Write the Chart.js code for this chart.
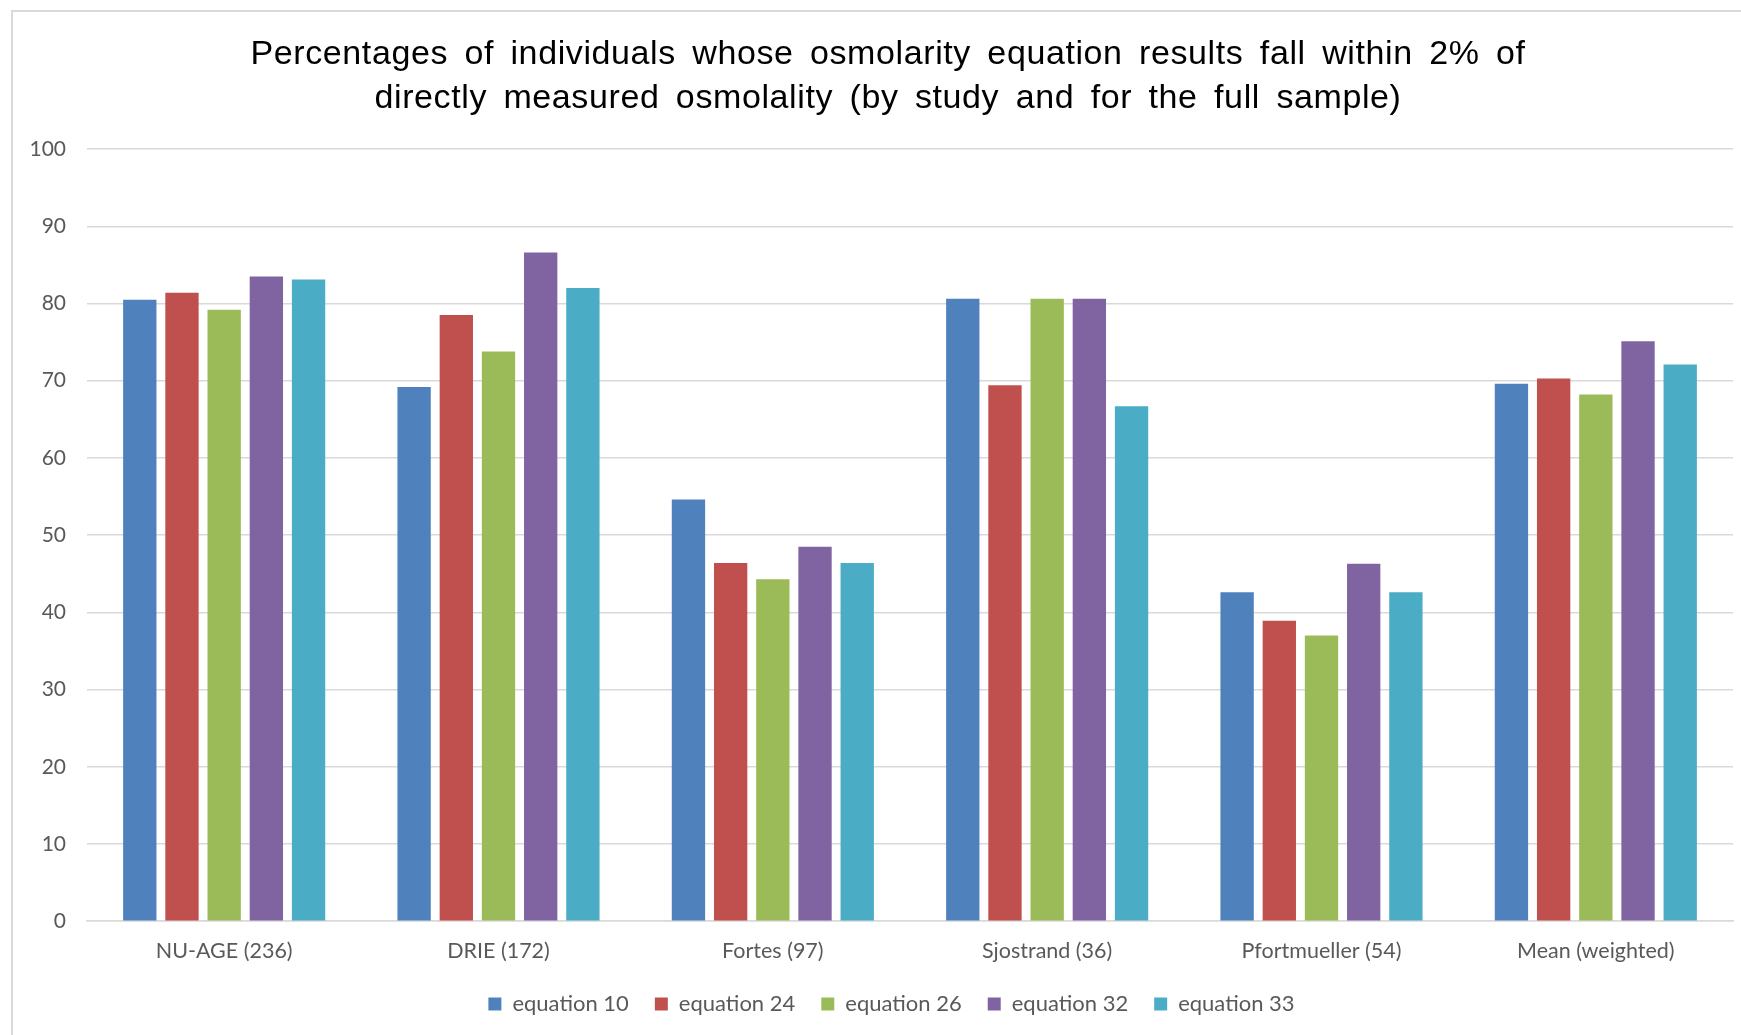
<!DOCTYPE html>
<html>
<head>
<meta charset="utf-8">
<script src="https://cdn.jsdelivr.net/npm/chart.js@4.4.1/dist/chart.umd.min.js"></script>
<style>
    html, body { margin: 0; padding: 0; background: #fff; }
    #frame {
        position: absolute; left: 11px; top: 10px; right: 0; bottom: 0;
        border-left: 2px solid #d9d9d9; border-top: 2px solid #d9d9d9;
    }
    #wrap { position: absolute; left: 0; top: 0; width: 1741px; height: 1035px; }
</style>
</head>
<body>
<div id="frame"></div>
<div id="wrap"><canvas id="my-chart"></canvas></div>
<script>
const studies = ['NU-AGE (236)', 'DRIE (172)', 'Fortes (97)', 'Sjostrand (36)', 'Pfortmueller (54)', 'Mean (weighted)'];

const eq10 = [80.5, 69.2, 54.6, 80.6, 42.6, 69.6];
const eq24 = [81.4, 78.5, 46.4, 69.4, 38.9, 70.3];
const eq26 = [79.2, 73.8, 44.3, 80.6, 37.0, 68.2];
const eq32 = [83.5, 86.6, 48.5, 80.6, 46.3, 75.1];
const eq33 = [83.1, 82.0, 46.4, 66.7, 42.6, 72.1];

const seriesNames = ['equation 10', 'equation 24', 'equation 26', 'equation 32', 'equation 33'];
const colors = ['#4f81bd', '#c0504d', '#9bbb59', '#8064a2', '#4bacc6'];

const titleLines = [
    'Percentages of individuals whose osmolarity equation results fall within 2% of',
    'directly measured osmolality (by study and for the full sample)'
];

const yTicks = [0, 10, 20, 30, 40, 50, 60, 70, 80, 90, 100];

const ctx = document.getElementById('my-chart');

const data = {
    labels: studies,
    datasets: [eq10, eq24, eq26, eq32, eq33].map(function (vals, i) {
        return {
            label: seriesNames[i],
            data: vals,
            backgroundColor: colors[i],
            borderWidth: 0,
            categoryPercentage: 0.769,
            barPercentage: 0.79
        };
    })
};

const legendCut = 14; // legend takes less room above, so the plot reaches further down

// title and legend are centred a bit right of the canvas middle, title text is spaced wider
const tweaks = {
    id: 'tweaks',
    beforeLayout: function (chart) {
        const lg = chart.legend;
        if (!lg || lg._short) return;
        const fit = lg.fit;
        lg.fit = function () {
            fit.call(this);
            this.height -= legendCut;
        };
        lg._short = true;
    },
    afterLayout: function (chart) {
        chart.titleBlock.left += 43;
        chart.legend.left += 50;
        chart.legend.top -= legendCut;
    },
    beforeDraw: function (chart) {
        const tb = chart.titleBlock;
        if (tb._wide) return;
        const orig = tb.draw;
        tb.draw = function (area) {
            const c = this.ctx;
            c.save();
            c.letterSpacing = '0.6px';
            c.wordSpacing = '6.4px';
            orig.call(this, area);
            c.restore();
        };
        tb._wide = true;
    }
};

const config = {
    type: 'bar',
    data: data,
    plugins: [tweaks],
    options: {
        responsive: false,
        animation: false,
        layout: {
            padding: { left: 0, right: 8, top: 0, bottom: 10 }
        },
        plugins: {
            title: {
                display: true,
                text: titleLines,
                color: '#000',
                font: { family: '"Liberation Sans", Arial, sans-serif', size: 34, weight: 'normal', lineHeight: 1.31 },
                padding: { top: 32, bottom: 28 }
            },
            legend: {
                position: 'bottom',
                labels: {
                    color: '#595959',
                    font: { family: 'Lato, sans-serif', size: 22 },
                    boxWidth: 13,
                    boxHeight: 13,
                    padding: 26
                }
            },
            tooltip: { enabled: false }
        },
        scales: {
            x: {
                grid: { display: false, drawTicks: false },
                border: { display: true, color: '#d9d9d9', width: 1.5 },
                ticks: {
                    color: '#595959',
                    font: { family: 'Lato, sans-serif', size: 21.5 },
                    padding: 17
                }
            },
            y: {
                min: 0,
                max: 100,
                afterFit: function (scale) { scale.width = 87; },
                afterBuildTicks: function (scale) {
                    scale.ticks = yTicks.map(function (v) { return { value: v }; });
                },
                grid: { color: '#d9d9d9', lineWidth: 1.5, drawTicks: false },
                border: { display: false },
                ticks: {
                    color: '#595959',
                    font: { family: 'Lato, sans-serif', size: 21 },
                    padding: 21
                }
            }
        }
    }
};

ctx.width = 1741;
ctx.height = 1035;
const chart = new Chart(ctx, config);
</script>
</body>
</html>
